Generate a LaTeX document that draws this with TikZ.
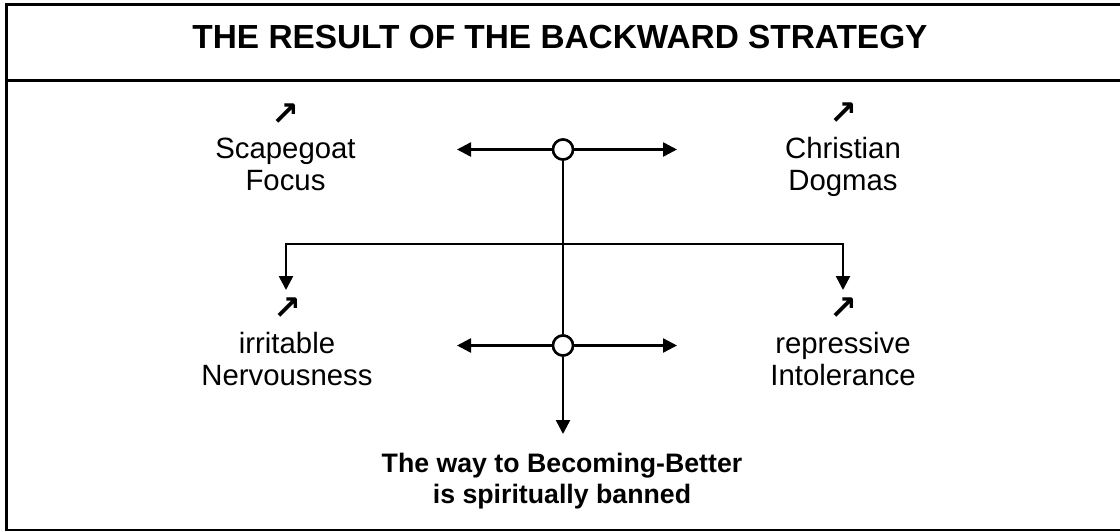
\documentclass[tikz,border=0pt]{standalone}
\usepackage{fontspec}
\setmainfont{Liberation Sans}
\newfontfamily\symfont{DejaVu Sans}
\usetikzlibrary{arrows.meta,positioning}
\tikzset{
	arr/.style={line width=0.05cm, -{Triangle[length=0.28cm,width=0.28cm]}},
	dblarr/.style={line width=0.05cm, {Triangle[length=0.28cm,width=0.28cm]}-{Triangle[length=0.28cm,width=0.28cm]}},
	hub/.style={circle, draw, line width=0.05cm, fill=white, minimum size=0.4cm, inner sep=0pt},
	lbl/.style={align=center, font=\fontsize{16.7}{18}\selectfont, inner sep=0pt},
	sym/.style={font=\symfont\bfseries\fontsize{19}{19}\selectfont, inner sep=0pt},
}
\begin{document}
\begin{tikzpicture}[x=0.02cm, y=-0.02cm]
			%%%%% START %%%%%
			\useasboundingbox (0, 0) rectangle (1120, 531);
			\draw[line width=0.06cm] (6.5, 4.3) rectangle (1124, 530);
			\draw[line width=0.06cm] (6.5, 80) -- (1124, 80);
			
			\node[anchor=base, font=\bfseries\fontsize{19}{20}\selectfont, inner sep=0pt] (title) at (560, 48) {THE RESULT OF THE BACKWARD STRATEGY};
			
			% upper row
			\node[lbl, anchor=base] (scape) at (285.5, 190) {Scapegoat\\Focus};
			\node[sym, above=0.24cm of scape] (scapesym) {↗};
			\node[lbl, anchor=base] (christ) at (843, 190) {Christian\\Dogmas};
			\node[sym, above=0.24cm of christ] (christsym) {↗};
			
			% lower row
			\node[lbl, anchor=base] (irrit) at (287, 385) {irritable\\Nervousness};
			\node[sym, above=0.24cm of irrit] (irritsym) {↗};
			\node[lbl, anchor=base] (repr) at (843, 385) {repressive\\Intolerance};
			\node[sym, above=0.24cm of repr] (reprsym) {↗};
			
			\node[anchor=base, align=center, font=\bfseries\fontsize{15.2}{17.5}\selectfont, inner sep=0pt] (banned) at (562, 503) {The way to Becoming-Better\\is spiritually banned};
			
			% hubs
			\node[hub] (hubtop) at (563, 149.5) {};
			\node[hub] (hubbot) at (563, 345.5) {};
			\coordinate (topl) at (457, 149.5);
			\coordinate (topr) at (677, 149.5);
			\coordinate (botl) at (457, 345.5);
			\coordinate (botr) at (677, 345.5);
			\coordinate (fork) at (563, 244);
			\coordinate (forkl) at (286, 290);
			\coordinate (forkr) at (843, 290);
			\coordinate (down) at (563, 434);
			
			\draw[dblarr] (topl) -- (topr);
			\draw[dblarr] (botl) -- (botr);
			\draw[line width=0.05cm] (hubtop) -- (hubbot);
			\draw[arr] (fork) -| (forkl);
			\draw[arr] (fork) -| (forkr);
			\draw[arr] (hubbot) -- (down);
			\node[hub] at (hubtop) {};
			\node[hub] at (hubbot) {};
			%%%%% END %%%%%
\end{tikzpicture}
\end{document}
